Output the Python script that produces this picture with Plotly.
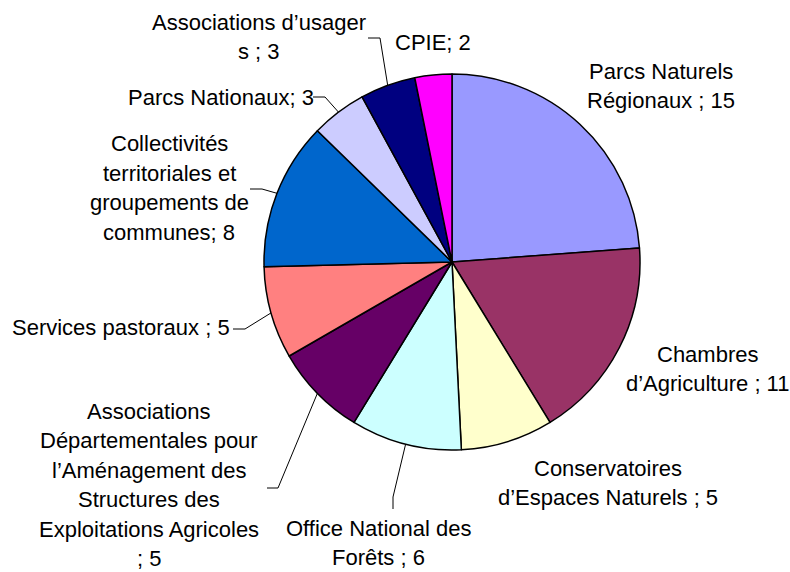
import math
import plotly.graph_objects as go

# ---- data ----
categories = [
    "Parcs Naturels Régionaux",
    "Chambres d’Agriculture",
    "Conservatoires d’Espaces Naturels",
    "Office National des Forêts",
    "Associations Départementales pour l’Aménagement des Structures des Exploitations Agricoles",
    "Services pastoraux",
    "Collectivités territoriales et groupements de communes",
    "Parcs Nationaux",
    "Associations d’usagers",
    "CPIE",
]
values = [15, 11, 5, 6, 5, 5, 8, 3, 3, 2]
colors = ["#9999FF", "#993366", "#FFFFCC", "#CCFFFF", "#660066",
          "#FF8080", "#0066CC", "#CCCCFF", "#000080", "#FF00FF"]
label_lines = [
    ["Parcs Naturels", "Régionaux ; {v}"],
    ["Chambres", "d’Agriculture ; {v}"],
    ["Conservatoires", "d’Espaces Naturels ; {v}"],
    ["Office National des", "Forêts ; {v}"],
    ["Associations", "Départementales pour", "l’Aménagement des",
     "Structures des", "Exploitations Agricoles", "; {v}"],
    ["Services pastoraux ; {v}"],
    ["Collectivités", "territoriales et", "groupements de", "communes; {v}"],
    ["Parcs Nationaux; {v}"],
    ["Associations d’usager", "s ; {v}"],
    ["CPIE; {v}"],
]

# ---- layout (pixels) ----
W, H = 790, 572
CX, CY, R = 452, 262, 188
FONT = 22
LINE_H = 29.5
label_pos = [(661, 86), (707, 369), (608, 483), (378, 543), (149, 485),
             (121, 327), (169, 188), (221, 97), (259, 37), (433, 42)]
# leader: (start point near label, elbow point) or None
leaders = [None, None, None,
           ((393, 509), (393, 497)),
           ((267, 488), (278, 488)),
           ((233, 329), (245, 329)),
           ((250, 189), (262, 189)),
           ((313, 97), (325, 97)),
           ((368, 38), (380, 38)),
           None]

def px(x):
    return x / W

def py(y):
    return 1 - y / H

fig = go.Figure(go.Pie(
    labels=categories,
    values=values,
    sort=False,
    direction="clockwise",
    rotation=0,
    marker=dict(colors=colors, line=dict(color="black", width=1.5)),
    textinfo="none",
    hoverinfo="label+value",
    domain=dict(x=[px(CX - R), px(CX + R)], y=[py(CY + R), py(CY - R)]),
    showlegend=False,
))

annotations = []
shapes = []
total = sum(values)
cum = 0
for i, v in enumerate(values):
    mid = (cum + v / 2) / total * 2 * math.pi
    cum += v
    rx = CX + R * math.sin(mid)
    ry = CY - R * math.cos(mid)
    lx, ly = label_pos[i]
    lines = label_lines[i]
    n = len(lines)
    for k, line in enumerate(lines):
        annotations.append(dict(
            x=px(lx), y=py(ly), xref="paper", yref="paper",
            text=line.format(v=v), showarrow=False,
            xanchor="center", yanchor="middle",
            yshift=-(k - (n - 1) / 2) * LINE_H,
            font=dict(family="Liberation Sans, Arial, sans-serif", size=FONT, color="black"),
        ))
    if leaders[i] is not None:
        (sx, sy), (ex, ey) = leaders[i]
        path = f"M {px(sx)} {py(sy)} L {px(ex)} {py(ey)} L {px(rx)} {py(ry)}"
        shapes.append(dict(type="path", xref="paper", yref="paper", path=path,
                           line=dict(color="black", width=1)))

fig.update_layout(
    width=W, height=H,
    margin=dict(l=0, r=0, t=0, b=0),
    paper_bgcolor="white", plot_bgcolor="white",
    annotations=annotations,
    shapes=shapes,
)

fig.write_html(
    "out.html",
    config={"displayModeBar": False},
    post_script="document.body.style.margin='0';document.body.style.overflow='hidden';",
)
